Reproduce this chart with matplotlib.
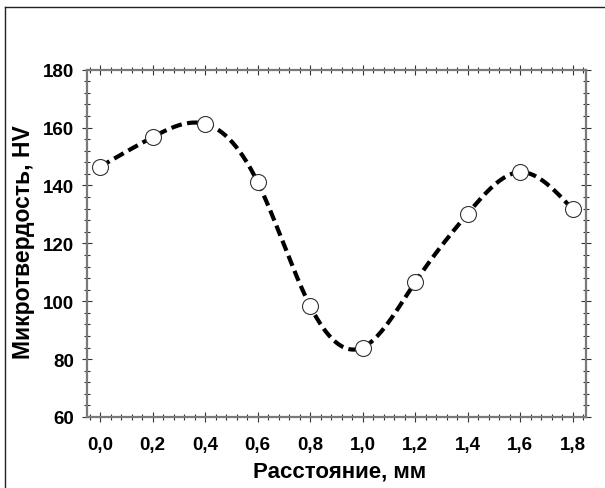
import matplotlib
matplotlib.use('Agg')
import matplotlib.pyplot as plt
from matplotlib.lines import Line2D
from matplotlib.ticker import MultipleLocator, FuncFormatter
import numpy as np

plt.rcParams['font.family'] = ['Liberation Sans', 'DejaVu Sans']
plt.rcParams['font.weight'] = 'bold'

# distance, mm and microhardness, HV
distance = [0.0, 0.2, 0.4, 0.6, 0.8, 1.0, 1.2, 1.4, 1.6, 1.8]
hardness = [146.5, 156.7, 161.3, 141.2, 98.4, 84.0, 106.5, 130.2, 144.6, 131.8]


def natural_spline(xs, ys, n=400):
    """Natural cubic spline through the measured points, for the smooth dashed curve."""
    x = np.asarray(xs, dtype=float)
    y = np.asarray(ys, dtype=float)
    k = len(x)
    h = np.diff(x)
    a = np.zeros((k, k))
    b = np.zeros(k)
    a[0, 0] = a[-1, -1] = 1.0
    for i in range(1, k - 1):
        a[i, i - 1] = h[i - 1]
        a[i, i] = 2 * (h[i - 1] + h[i])
        a[i, i + 1] = h[i]
        b[i] = 6 * ((y[i + 1] - y[i]) / h[i] - (y[i] - y[i - 1]) / h[i - 1])
    m = np.linalg.solve(a, b)
    xx = np.linspace(x[0], x[-1], n)
    idx = np.clip(np.searchsorted(x, xx) - 1, 0, k - 2)
    x0, x1 = x[idx], x[idx + 1]
    hi = x1 - x0
    t0, t1 = x1 - xx, xx - x0
    yy = (m[idx] * t0 ** 3 + m[idx + 1] * t1 ** 3) / (6 * hi) \
        + (y[idx] / hi - m[idx] * hi / 6) * t0 + (y[idx + 1] / hi - m[idx + 1] * hi / 6) * t1
    return xx, yy


fig = plt.figure(figsize=(6.05, 4.89), dpi=100)
ax = fig.add_axes([0.1438, 0.1452, 0.8242, 0.7102])

xs, ys = natural_spline(distance, hardness)
ax.plot(xs, ys, color='black', lw=3, dashes=(2.6, 1.3), dash_capstyle='butt', zorder=2)
ax.plot(distance, hardness, 'o', ms=11.5, mfc='white', mec='#333333', mew=0.8, zorder=3)

ax.set_xlim(-0.05, 1.85)
ax.set_ylim(60, 180)
ax.xaxis.set_major_locator(MultipleLocator(0.2))
ax.xaxis.set_minor_locator(MultipleLocator(0.04))
ax.yaxis.set_major_locator(MultipleLocator(20))
ax.yaxis.set_minor_locator(MultipleLocator(4))
ax.xaxis.set_major_formatter(FuncFormatter(lambda v, p: ('%.1f' % v).replace('.', ',')))

for s in ax.spines.values():
    s.set_color('#7a7a7a')
    s.set_linewidth(1.6)

ax.tick_params(which='both', direction='inout', top=True, right=True, color='#333333', width=0.8)
ax.tick_params(which='major', length=7, labelsize=13.5, pad=6)
ax.tick_params(which='minor', length=4.5)
ax.tick_params(axis='x', which='major', pad=10)

ax.set_xlabel('Расстояние, мм', fontsize=16, fontweight='bold')
ax.set_ylabel('Микротвердость, HV', fontsize=16.5, fontweight='bold')
ax.xaxis.set_label_coords(0.506, -0.125)
ax.yaxis.set_label_coords(-0.105, 0.505)

# thin frame lines along the top and left edge of the picture
fig.add_artist(Line2D([5 / 605, 1], [1 - 8 / 489, 1 - 8 / 489], color='#222222', lw=1,
                      transform=fig.transFigure))
fig.add_artist(Line2D([5 / 605, 5 / 605], [0, 1 - 8 / 489], color='#222222', lw=1,
                      transform=fig.transFigure))

fig.savefig('out.png', dpi=100)
